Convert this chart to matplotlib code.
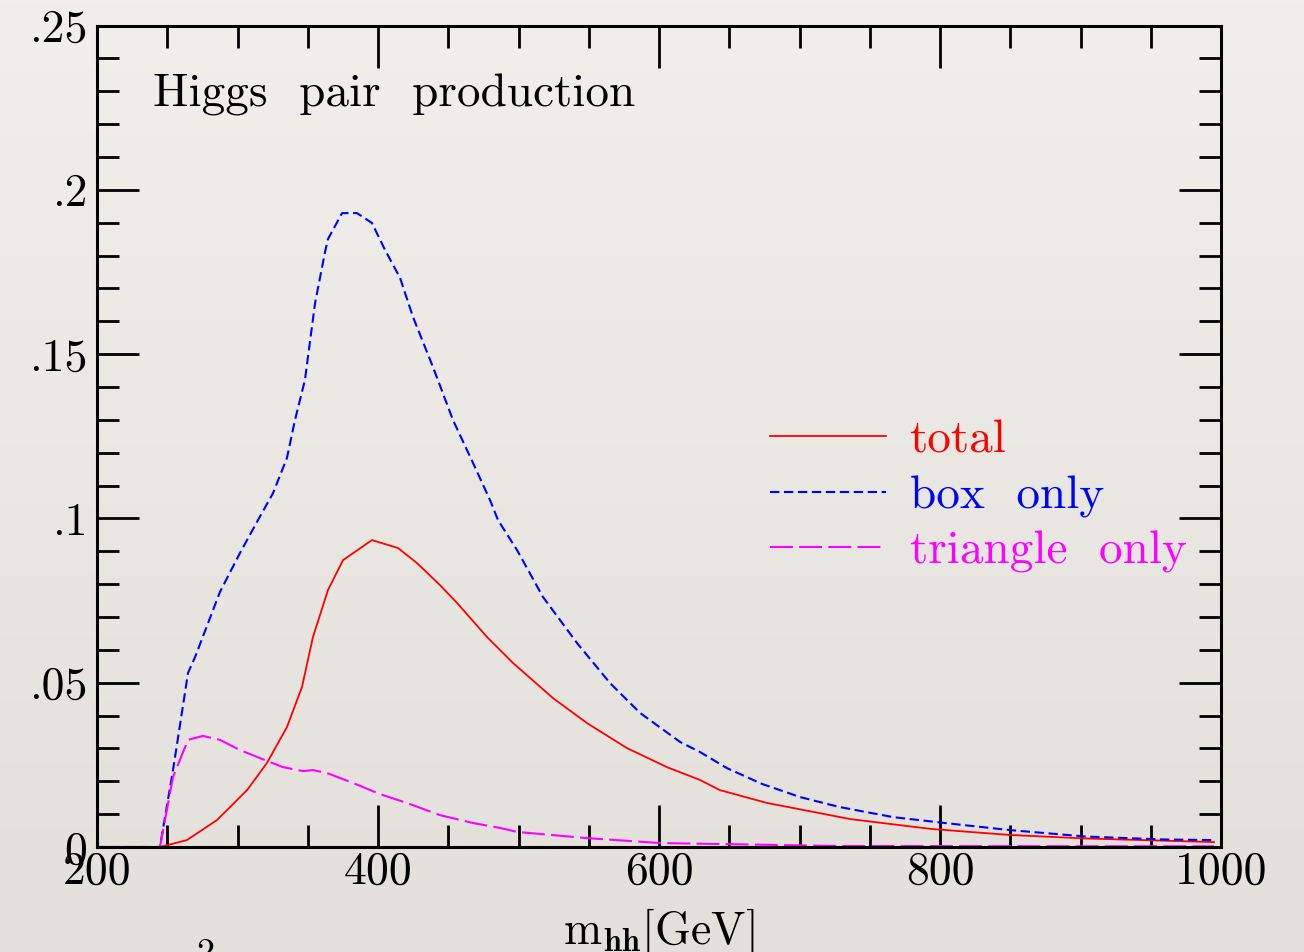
import numpy as np
import matplotlib
matplotlib.use("Agg")
import matplotlib.pyplot as plt
from matplotlib.ticker import MultipleLocator, FixedLocator

plt.rcParams['font.family'] = ['cmr10', 'DejaVu Serif']
plt.rcParams['mathtext.fontset'] = 'cm'
plt.rcParams['axes.formatter.use_mathtext'] = True

# --------------------------
# Data
# --------------------------
box_x = [200, 244.8, 254.1, 264.8, 269.8, 287.5, 301.8, 314.6, 325.3, 335.2, 340.9,
         348.0, 355.2, 362.3, 364.4, 374.4, 385.1, 395.7, 405.0, 415.7, 424.9,
         439.1, 453.4, 467.6, 479.7, 485.4, 498.9, 517.4, 541.6, 565.1,
         586.5, 614.9, 629.2, 648.4, 673.3, 700.4, 728.1, 766.5, 799.3, 848.4,
         903.2, 958.0, 995.0]
box_y = [0, 0, 0.0234, 0.0530, 0.0578, 0.0776, 0.0895, 0.0995, 0.1077, 0.1184, 0.1299,
         0.1421, 0.1655, 0.1811, 0.1850, 0.1929, 0.1929, 0.1899, 0.1817, 0.1732, 0.1613,
         0.1461, 0.1299, 0.1169, 0.1056, 0.0995, 0.0904, 0.0761, 0.0621, 0.0499,
         0.0408, 0.0320, 0.0289, 0.0240, 0.0192, 0.0152, 0.0122, 0.0091, 0.0075, 0.0052,
         0.0032, 0.0023, 0.0021]

total_x = [200, 244.8, 264.0, 285.4, 306.8, 321.0, 335.2, 345.9, 353.7, 364.4, 375.1,
           395.7, 414.2, 427.8, 444.1, 456.2, 477.6, 496.1, 524.6, 548.8, 577.2,
           605.7, 629.2, 643.4, 676.9, 706.0, 736.0, 793.6, 848.4, 903.2, 995.0]
total_y = [0, 0, 0.0021, 0.0082, 0.0173, 0.0256, 0.0365, 0.0487, 0.0639, 0.0782, 0.0873,
           0.0934, 0.0910, 0.0864, 0.0797, 0.0743, 0.0639, 0.0560, 0.0453, 0.0377, 0.0301,
           0.0243, 0.0204, 0.0173, 0.0134, 0.0110, 0.0085, 0.0055, 0.0037, 0.0026, 0.0015]

tri_x = [200, 244.8, 254.1, 264.8, 275.4, 287.5, 301.8, 321.0, 332.4, 346.6, 353.7,
         363.7, 382.2, 401.4, 420.6, 444.1, 467.6, 486.8, 498.9, 548.8, 600.7,
         728.8, 995.0]
tri_y = [0, 0, 0.0213, 0.0326, 0.0338, 0.0326, 0.0295, 0.0262, 0.0243, 0.0231, 0.0234,
         0.0225, 0.0195, 0.0161, 0.0134, 0.0097, 0.0073, 0.0058, 0.0046, 0.0027, 0.0012,
         0.0003, 0.0002]

y_ticks = [0, 0.05, 0.1, 0.15, 0.2, 0.25]
y_ticklabels = ['0', '.05', '.1', '.15', '.2', '.25']
x_ticks = [200, 400, 600, 800, 1000]
x_ticklabels = ['200', '400', '600', '800', '1000']

# --------------------------
# Plot
# --------------------------
bg = '#ebe8e3'
fig = plt.figure(figsize=(13.04, 9.52), dpi=100, facecolor=bg)

# paper-like background, a bit lighter at the top
bgax = fig.add_axes([0, 0, 1, 1], zorder=-10)
grad = np.linspace(0, 1, 256).reshape(-1, 1)
bgax.imshow(grad, aspect='auto', extent=(0, 1, 0, 1), origin='lower',
            cmap=matplotlib.colors.LinearSegmentedColormap.from_list('paper', ['#e3e0db', '#f1efeb']))
bgax.axis('off')

ax = fig.add_axes([97 / 1304, 1 - 847 / 952, 1124 / 1304, 821.5 / 952])
ax.patch.set_alpha(0)

ax.plot(total_x, total_y, color='red', lw=1.3, label='total', clip_on=False)
ax.plot(box_x, box_y, color='blue', lw=1.5, dashes=(4.5, 2.2), label='box  only', clip_on=False)
ax.plot(tri_x, tri_y, color='magenta', lw=1.5, dashes=(11, 3), label='triangle  only', clip_on=False)

ax.set_xlim(200, 1000)
ax.set_ylim(0, 0.25)

ax.xaxis.set_major_locator(FixedLocator(x_ticks))
ax.set_xticklabels(x_ticklabels)
ax.xaxis.set_minor_locator(MultipleLocator(50))
ax.yaxis.set_major_locator(FixedLocator(y_ticks))
ax.set_yticklabels(y_ticklabels)
ax.yaxis.set_minor_locator(MultipleLocator(0.01))

ax.tick_params(which='both', direction='in', top=True, right=True, width=2, colors='black',
               labelsize=33)
ax.tick_params(which='major', length=30)
ax.tick_params(which='minor', length=16)
ax.tick_params(axis='y', which='major', pad=7)
ax.tick_params(axis='x', which='major', pad=3)
for s in ax.spines.values():
    s.set_linewidth(2.2)

ax.text(0.05, 0.915, 'Higgs  pair  production', transform=ax.transAxes,
        fontsize=34, va='center', ha='left')

ax.set_xlabel(r'$\mathrm{m}_{\mathbf{hh}}\mathrm{[GeV]}$', fontsize=33, labelpad=10)

leg = ax.legend(loc='upper left', bbox_to_anchor=(0.599, 0.52), frameon=False,
                fontsize=34, handlelength=2.45, handletextpad=0.5, labelspacing=0.28,
                borderpad=0, borderaxespad=0, labelcolor='linecolor')

# superscript cut off by the bottom edge
fig.text(205 / 1304, -0.012, '2', fontsize=26, va='baseline', ha='center')

fig.savefig('out.png', dpi=100, facecolor=bg)
